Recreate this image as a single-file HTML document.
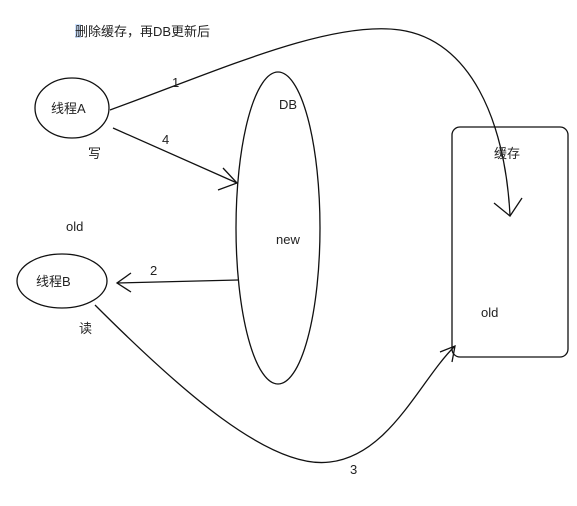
<!DOCTYPE html>
<html><head><meta charset="utf-8"><style>
body{margin:0;background:#fff;width:577px;height:501px;overflow:hidden}
svg text{font-family:"Liberation Sans","Noto Sans CJK SC",sans-serif;font-size:13px;fill:#222}
</style></head><body>
<svg width="577" height="501" viewBox="0 0 577 501">
<rect x="75" y="24" width="6" height="14" fill="#cfe3ff"/>
<text x="75" y="36">删除缓存，再DB更新后</text>
<g fill="none" stroke="#111" stroke-width="1.3">
<ellipse cx="72" cy="108" rx="37" ry="30"/>
<ellipse cx="62" cy="281" rx="45" ry="27"/>
<ellipse cx="278" cy="228" rx="42" ry="156"/>
<rect x="452" y="127" width="116" height="230" rx="8"/>
<path d="M110 110 C220 70 330 20 400 30 C470 40 505 120 510 215"/>
<path d="M494 203 L510 216 L522 198"/>
<path d="M113 128 L237 183"/>
<path d="M223 168 L237 183 L218 190"/>
<path d="M238 280 L117 283"/>
<path d="M131 273 L117 283 L131 292"/>
<path d="M95 305 C180 390 270 470 330 462 C390 455 420 380 455 346"/>
<path d="M440 352 L455 346 L452 362"/>
</g>
<text x="51" y="113">线程A</text>
<text x="36" y="286">线程B</text>
<text x="172" y="87">1</text>
<text x="162" y="144">4</text>
<text x="88" y="158">写</text>
<text x="66" y="231">old</text>
<text x="150" y="275">2</text>
<text x="79" y="333">读</text>
<text x="279" y="109">DB</text>
<text x="276" y="244">new</text>
<text x="494" y="158">缓存</text>
<text x="481" y="317">old</text>
<text x="350" y="474">3</text>
</svg>
</body></html>
